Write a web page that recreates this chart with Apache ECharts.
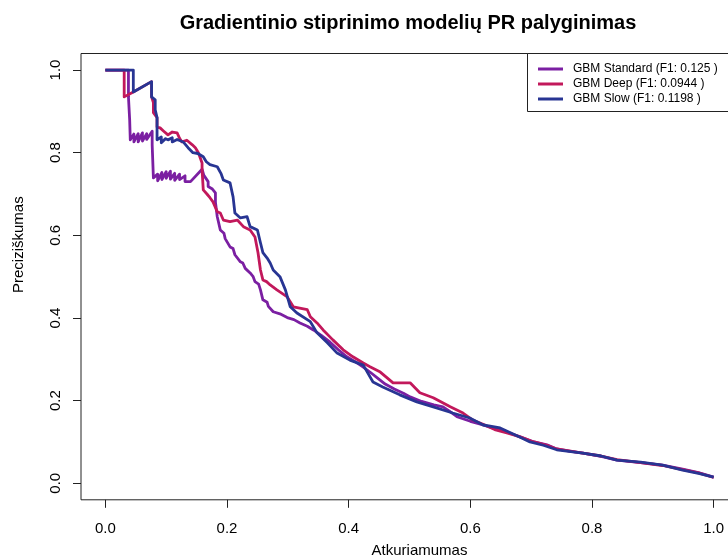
<!DOCTYPE html>
<html>
<head>
<meta charset="utf-8">
<script src="https://cdn.jsdelivr.net/npm/echarts@6/dist/echarts.min.js"></script>
<style>html,body{margin:0;padding:0;background:#fff}#c{width:728px;height:558px}</style>
</head>
<body>
<div id="c"></div>
<script>
const titleText = 'Gradientinio stiprinimo modelių PR palyginimas';
const xName = 'Atkuriamumas';
const yName = 'Preciziškumas';
const seriesNames = ['GBM Standard (F1: 0.125 )', 'GBM Deep (F1: 0.0944 )', 'GBM Slow (F1: 0.1198 )'];
const xTicks = [0, 0.2, 0.4, 0.6, 0.8, 1.0];
const yTicks = [0, 0.2, 0.4, 0.6, 0.8, 1.0];

// [recall, precision]
const standardPoints = [
[0,1],[0.038,1],[0.038,0.935],[0.040,0.88],[0.041,0.831],[0.047,0.845],[0.047,0.826],[0.054,0.846],[0.054,0.826],
[0.061,0.848],[0.061,0.828],[0.068,0.846],[0.068,0.832],[0.077,0.852],[0.077,0.819],[0.079,0.739],
[0.080,0.735],[0.086,0.748],[0.086,0.732],[0.093,0.752],[0.093,0.735],[0.100,0.754],[0.100,0.738],[0.107,0.755],
[0.107,0.736],[0.114,0.750],[0.114,0.733],[0.122,0.748],[0.122,0.735],[0.131,0.744],[0.131,0.730],[0.140,0.730],
[0.159,0.760],[0.162,0.745],[0.169,0.730],[0.169,0.718],[0.176,0.712],[0.181,0.703],[0.181,0.680],[0.184,0.645],
[0.189,0.613],[0.195,0.605],[0.197,0.592],[0.205,0.572],[0.210,0.568],[0.213,0.553],[0.222,0.536],[0.226,0.533],
[0.230,0.520],[0.238,0.509],[0.243,0.500],[0.246,0.488],[0.252,0.482],[0.255,0.468],[0.259,0.444],[0.266,0.438],
[0.268,0.428],[0.276,0.415],[0.287,0.410],[0.299,0.401],[0.310,0.396],[0.320,0.388],[0.332,0.380],[0.342,0.371],
[0.355,0.358],[0.369,0.342],[0.383,0.323],[0.397,0.306],[0.410,0.295],[0.424,0.281],[0.436,0.268],[0.447,0.255],
[0.460,0.240],[0.475,0.228],[0.490,0.218],[0.501,0.209],[0.520,0.198],[0.540,0.190],[0.555,0.185],[0.565,0.175],
[0.578,0.161],[0.600,0.150],[0.621,0.141],[0.640,0.132],[0.660,0.124],[0.686,0.110],[0.705,0.100],[0.726,0.093],
[0.742,0.083],[0.765,0.077],[0.785,0.073],[0.815,0.065],[0.841,0.056],[0.880,0.050],[0.916,0.044],[0.949,0.034],
[0.975,0.026],[1.0,0.015]
];

const deepPoints = [
[0,1],[0.031,1],[0.031,0.935],[0.046,0.947],[0.076,0.972],[0.076,0.935],[0.079,0.921],[0.079,0.897],[0.085,0.885],
[0.085,0.862],[0.090,0.860],[0.096,0.852],[0.103,0.843],[0.110,0.850],[0.118,0.848],[0.122,0.835],[0.126,0.826],
[0.134,0.830],[0.143,0.819],[0.148,0.812],[0.153,0.800],[0.159,0.775],[0.159,0.759],[0.161,0.710],[0.167,0.700],
[0.172,0.691],[0.177,0.681],[0.184,0.657],[0.189,0.654],[0.194,0.637],[0.205,0.633],[0.217,0.637],[0.227,0.621],
[0.238,0.613],[0.246,0.596],[0.251,0.558],[0.255,0.516],[0.259,0.492],[0.265,0.488],[0.271,0.480],[0.282,0.468],
[0.299,0.451],[0.309,0.427],[0.332,0.420],[0.337,0.403],[0.348,0.388],[0.358,0.371],[0.374,0.347],[0.391,0.323],
[0.407,0.306],[0.424,0.291],[0.435,0.282],[0.452,0.269],[0.473,0.243],[0.501,0.243],[0.517,0.219],[0.539,0.207],
[0.567,0.185],[0.588,0.170],[0.604,0.153],[0.621,0.143],[0.640,0.130],[0.660,0.122],[0.681,0.113],[0.700,0.102],
[0.726,0.092],[0.742,0.083],[0.785,0.073],[0.815,0.066],[0.841,0.057],[0.880,0.050],[0.916,0.043],[0.949,0.033],
[0.975,0.025],[1.0,0.014]
];

const slowPoints = [
[0,1],[0.046,1],[0.046,0.947],[0.076,0.972],[0.076,0.935],[0.082,0.928],[0.082,0.904],[0.085,0.885],[0.085,0.831],
[0.092,0.838],[0.092,0.824],[0.099,0.834],[0.103,0.831],[0.110,0.836],[0.110,0.826],[0.118,0.832],[0.128,0.826],
[0.136,0.812],[0.144,0.800],[0.152,0.798],[0.161,0.790],[0.166,0.778],[0.172,0.771],[0.184,0.766],[0.190,0.750],
[0.194,0.734],[0.205,0.727],[0.210,0.693],[0.213,0.654],[0.222,0.642],[0.233,0.645],[0.238,0.621],[0.250,0.613],
[0.255,0.582],[0.259,0.558],[0.266,0.545],[0.271,0.533],[0.276,0.516],[0.287,0.500],[0.296,0.468],[0.304,0.427],
[0.315,0.412],[0.337,0.391],[0.348,0.364],[0.365,0.340],[0.381,0.315],[0.402,0.298],[0.424,0.286],[0.440,0.245],
[0.456,0.233],[0.484,0.214],[0.512,0.197],[0.539,0.185],[0.571,0.170],[0.599,0.158],[0.621,0.141],[0.649,0.134],
[0.681,0.112],[0.698,0.100],[0.720,0.092],[0.742,0.081],[0.785,0.073],[0.815,0.066],[0.841,0.056],[0.880,0.051],
[0.916,0.044],[0.949,0.032],[0.975,0.024],[1.0,0.015]
];

const colors = ['#7B1FA2', '#C2185B', '#283593'];
const font = "'Liberation Sans', Arial, sans-serif";

const chart = echarts.init(document.getElementById('c'), null, {renderer: 'canvas'});
const mkSeries = (name, data, color, z) => ({
  name, type: 'line', data, symbol: 'none', showSymbol: false, z,
  lineStyle: {color, width: 2.8, join: 'round'}, itemStyle: {color},
  emphasis: {disabled: true}
});
chart.setOption({
  animation: false,
  backgroundColor: '#fff',
  textStyle: {fontFamily: font},
  title: {
    text: titleText, left: 403, textAlign: 'center', top: 8,
    textStyle: {fontSize: 20, fontWeight: 'bold', color: '#000', fontFamily: font}
  },
  grid: {left: 81, top: 53.5, width: 657, height: 446.3, show: true, borderColor: '#222', borderWidth: 1,
         backgroundColor: 'transparent', containLabel: false, outerBoundsMode: 'none'},
  xAxis: {
    type: 'value', min: -0.04, max: 1.04,
    name: xName, nameLocation: 'middle', nameGap: 44,
    nameTextStyle: {fontSize: 15, color: '#000', fontFamily: font, padding: [0, 0, 0, 20]},
    axisLine: {show: false, onZero: false},
    splitLine: {show: false},
    axisTick: {show: true, customValues: xTicks, length: 8, lineStyle: {color: '#222'}},
    axisLabel: {customValues: xTicks, formatter: v => v.toFixed(1), fontSize: 15, color: '#000', margin: 22}
  },
  yAxis: {
    type: 'value', min: -0.04, max: 1.04,
    name: yName, nameLocation: 'middle', nameGap: 55,
    nameTextStyle: {fontSize: 15, color: '#000', fontFamily: font, padding: [0, 0, 0, 64]},
    axisLine: {show: false, onZero: false},
    splitLine: {show: false},
    axisTick: {show: true, customValues: yTicks, length: 8, lineStyle: {color: '#222'}},
    axisLabel: {customValues: yTicks, formatter: v => v.toFixed(1), fontSize: 15, color: '#000', margin: 18, rotate: 90}
  },
  legend: {
    orient: 'vertical', left: 538, top: 62, padding: 0, z: 20,
    icon: 'rect', itemWidth: 25, itemHeight: 3, itemGap: 1,
    textStyle: {fontSize: 12, color: '#000', fontFamily: font, padding: [0, 0, 0, 5], lineHeight: 14},
    data: seriesNames
  },
  graphic: [{
    type: 'rect', z: 15, shape: {x: 527.5, y: 53.5, width: 220, height: 58},
    style: {fill: '#fff', stroke: '#222', lineWidth: 1}
  }],
  series: [
    mkSeries(seriesNames[0], standardPoints, colors[0], 2),
    mkSeries(seriesNames[1], deepPoints, colors[1], 3),
    mkSeries(seriesNames[2], slowPoints, colors[2], 4)
  ]
});
</script>
</body>
</html>
